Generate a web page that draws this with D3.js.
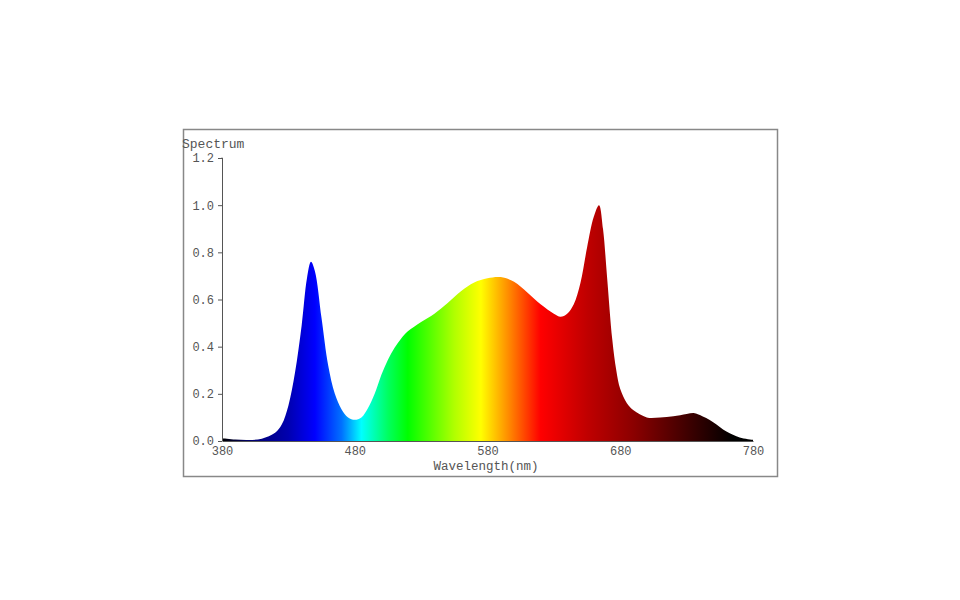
<!DOCTYPE html>
<html>
<head>
<meta charset="utf-8" />
<title>Spectrum</title>
<style>
html, body {
    margin: 0;
    width: 960px;
    height: 600px;
    background: #fff;
}
text {
    font-family: "Liberation Mono", "DejaVu Sans Mono", monospace;
    fill: #555;
}
</style>
</head>
<body>
<div id="chart"></div>
<script src="https://d3js.org/d3.v7.min.js"></script>
<script>
// wavelength (nm) and relative spectrum
var wavelengths = [380, 390, 400, 410, 420, 425, 430, 435, 440, 444, 447, 450, 455, 460, 465, 470, 475, 480, 485, 490, 495, 500, 505, 510, 515, 520, 530, 540, 550, 560, 570, 580, 590, 600, 610, 620, 630, 635, 640, 645, 650, 655, 660, 664, 667, 670, 674, 677, 680, 685, 690, 700, 710, 720, 730, 736, 740, 750, 760, 770, 780];
var spectrum    = [0.012, 0.006, 0.004, 0.01, 0.035, 0.07, 0.15, 0.29, 0.49, 0.69, 0.76, 0.72, 0.52, 0.32, 0.2, 0.135, 0.1, 0.09, 0.1, 0.14, 0.2, 0.28, 0.345, 0.395, 0.435, 0.465, 0.505, 0.54, 0.585, 0.635, 0.672, 0.69, 0.695, 0.675, 0.63, 0.58, 0.54, 0.527, 0.54, 0.58, 0.67, 0.82, 0.95, 1.0, 0.9, 0.7, 0.43, 0.3, 0.22, 0.16, 0.13, 0.1, 0.1, 0.105, 0.115, 0.118, 0.11, 0.08, 0.04, 0.015, 0.005];
var xTicks = [380, 480, 580, 680, 780];
var yTicks = [0, 0.2, 0.4, 0.6, 0.8, 1.0, 1.2];
// colour of light along the wavelength axis
var colourStops = [
    [380, "#000000"], [400, "#00006a"], [430, "#0000b0"], [450, "#0000ff"],
    [470, "#0070ff"], [485, "#00ffff"], [505, "#00ff60"], [520, "#00ff00"],
    [555, "#b0ff00"], [575, "#ffff00"], [595, "#ff9000"], [620, "#ff0000"],
    [655, "#c00000"], [690, "#8b0000"], [730, "#400000"], [765, "#000000"], [780, "#000000"]
];

var width = 960, height = 600
var margin = {top: 158, left: 222, right: 207, bottom: 159}

var svg = d3.select("#chart").append("svg")
    .attr("width", width)
    .attr("height", height)

// frame around the chart
svg.append("rect")
    .attr("x", 183.5).attr("y", 129.5)
    .attr("width", 594).attr("height", 347)
    .attr("fill", "none")
    .attr("stroke", "#888")
    .attr("stroke-width", 1.5)

var x = d3.scaleLinear().domain([380, 780]).range([margin.left, width - margin.right])
var y = d3.scaleLinear().domain([0, 1.2]).range([height - margin.bottom, margin.top])

var grad = svg.append("defs").append("linearGradient")
    .attr("id", "rainbow")
    .attr("gradientUnits", "userSpaceOnUse")
    .attr("x1", x(380)).attr("x2", x(780))
    .attr("y1", 0).attr("y2", 0)

grad.selectAll("stop")
    .data(colourStops)
    .enter().append("stop")
    .attr("offset", function(d) { return (d[0] - 380) / 400 })
    .attr("stop-color", function(d) { return d[1] })

var data = wavelengths.map(function(w, i) { return {w: w, v: spectrum[i]} })

var area = d3.area()
    .x(function(d) { return x(d.w) })
    .y0(y(0))
    .y1(function(d) { return y(d.v) })
    .curve(d3.curveCatmullRom.alpha(0.5))

svg.append("path")
    .datum(data)
    .attr("d", area)
    .attr("fill", "url(#rainbow)")

// axes
var yAxis = svg.append("g")
    .attr("transform", "translate(" + margin.left + ",0)")
    .call(d3.axisLeft(y).tickValues(yTicks).tickSize(4).tickPadding(4).tickFormat(d3.format(".1f")))

var xAxis = svg.append("g")
    .attr("transform", "translate(0," + (height - margin.bottom) + ")")
    .call(d3.axisBottom(x).tickValues(xTicks).tickSize(0).tickPadding(5))

svg.selectAll(".domain, .tick line").attr("stroke", "#555")
svg.selectAll(".tick text")
    .attr("font-family", "Liberation Mono, monospace")
    .attr("font-size", "12px")
    .attr("fill", "#666")
yAxis.selectAll(".domain").attr("d", "M-0.5," + y(1.2) + "H0.5V" + y(0))

svg.append("text")
    .attr("x", 182)
    .attr("y", 148)
    .attr("font-size", "13px")
    .text("Spectrum")

svg.append("text")
    .attr("x", 486)
    .attr("y", 470)
    .attr("text-anchor", "middle")
    .attr("font-size", "12.5px")
    .text("Wavelength(nm)")
</script>
</body>
</html>
